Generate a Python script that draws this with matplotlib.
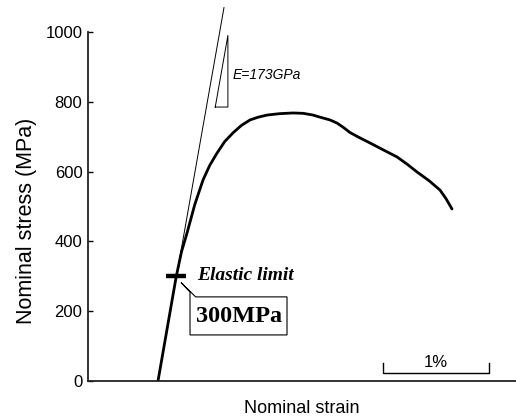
import matplotlib

matplotlib.use("Agg")
import matplotlib.pyplot as plt
import numpy as np
from matplotlib.patches import Polygon

# measured curve: nominal strain (%) vs nominal stress (MPa)
strain = [0.0, 0.17, 0.22, 0.272, 0.345, 0.422, 0.485, 0.553, 0.625, 0.703,
          0.78, 0.862, 0.94, 1.022, 1.14, 1.265, 1.36, 1.453, 1.518, 1.612,
          1.678, 1.74, 1.799, 1.89, 1.987, 2.10, 2.240, 2.34, 2.427, 2.54,
          2.643, 2.70, 2.755]
stress = [0, 298, 370, 424, 506, 576, 618, 653, 686, 711,
          732, 748, 756, 762, 766, 768, 767, 762, 756, 748,
          739, 726, 712, 697, 682, 664, 642, 620, 599, 574,
          547, 522, 493]

youngs_modulus_gpa = 173
elastic_line_top = 1070          # MPa, line runs past the frame
elastic_limit = 300              # MPa
triangle_stress = [785, 990]     # MPa, slope triangle bottom / top
triangle_right_strain = 0.655    # %
scale_bar_strain = 1.0           # %
scale_bar_start = 2.106          # %

yticks = [0, 200, 400, 600, 800, 1000]

SANS = "Liberation Sans"
SERIF = "Liberation Serif"


def main():
    fig = plt.figure(figsize=(5.16, 4.18), dpi=100)
    ax = fig.add_axes([88 / 516, 37 / 418, 428 / 516, 349 / 418])
    ax.set_xlim(-0.656, 3.355)
    ax.set_ylim(0, 1000)

    slope = youngs_modulus_gpa * 10.0  # MPa per %

    # elastic modulus line
    e_stress = np.array([0, elastic_line_top])
    ax.plot(e_stress / slope, e_stress, color="black", lw=0.7, clip_on=False)

    # stress-strain curve
    ax.plot(strain, stress, color="black", lw=2.0, solid_capstyle="round",
            solid_joinstyle="round")

    # slope triangle
    lo, hi = triangle_stress
    left = triangle_right_strain - (hi - lo) / slope
    ax.plot([left, triangle_right_strain, triangle_right_strain, left],
            [lo, hi, lo, lo], color="black", lw=0.7)
    ax.text(triangle_right_strain + 0.045, 865, f"E={youngs_modulus_gpa}GPa",
            fontsize=10, style="italic", family=SANS, va="baseline")

    # elastic limit marker
    ax.plot([0.075, 0.262], [elastic_limit, elastic_limit], color="black",
            lw=3.2, solid_capstyle="butt")
    ax.text(0.366, 289, "Elastic limit", family=SERIF, fontsize=14,
            weight="bold", style="italic", va="baseline")

    # callout box
    callout = [(0.300, 132), (0.300, 255), (0.216, 282), (0.353, 241),
               (1.209, 241), (1.209, 132)]
    ax.add_patch(Polygon(callout, closed=True, fill=False, lw=0.8,
                         edgecolor="black"))
    ax.text(0.755, 186, f"{elastic_limit}MPa", family=SERIF, fontsize=17.5,
            weight="bold", ha="center", va="center")

    # 1 % scale bar
    x0, x1 = scale_bar_start, scale_bar_start + scale_bar_strain
    ax.plot([x0, x0, x1, x1], [51, 22, 22, 51], color="black", lw=1.0)
    ax.text((x0 + x1) / 2, 40, "1%", family=SANS, fontsize=12,
            ha="center", va="baseline")

    for side in ("top", "right"):
        ax.spines[side].set_visible(False)
    for side in ("left", "bottom"):
        ax.spines[side].set_linewidth(1.3)
        ax.spines[side].set_color("#222222")

    ax.set_xticks([])
    ax.set_yticks(yticks)
    ax.tick_params(axis="y", direction="in", length=3.5, width=1.0, pad=4,
                   labelsize=12)
    for lab in ax.get_yticklabels():
        lab.set_family(SANS)

    ax.set_xlabel("Nominal strain", family=SANS, fontsize=13, labelpad=14)
    fig.text(27 / 516, 1 - 221 / 418, "Nominal stress (MPa)", family=SANS,
             fontsize=15.5, rotation=90, ha="center", va="center")

    fig.savefig("out.png", dpi=100)
    plt.close(fig)


if __name__ == "__main__":
    main()
